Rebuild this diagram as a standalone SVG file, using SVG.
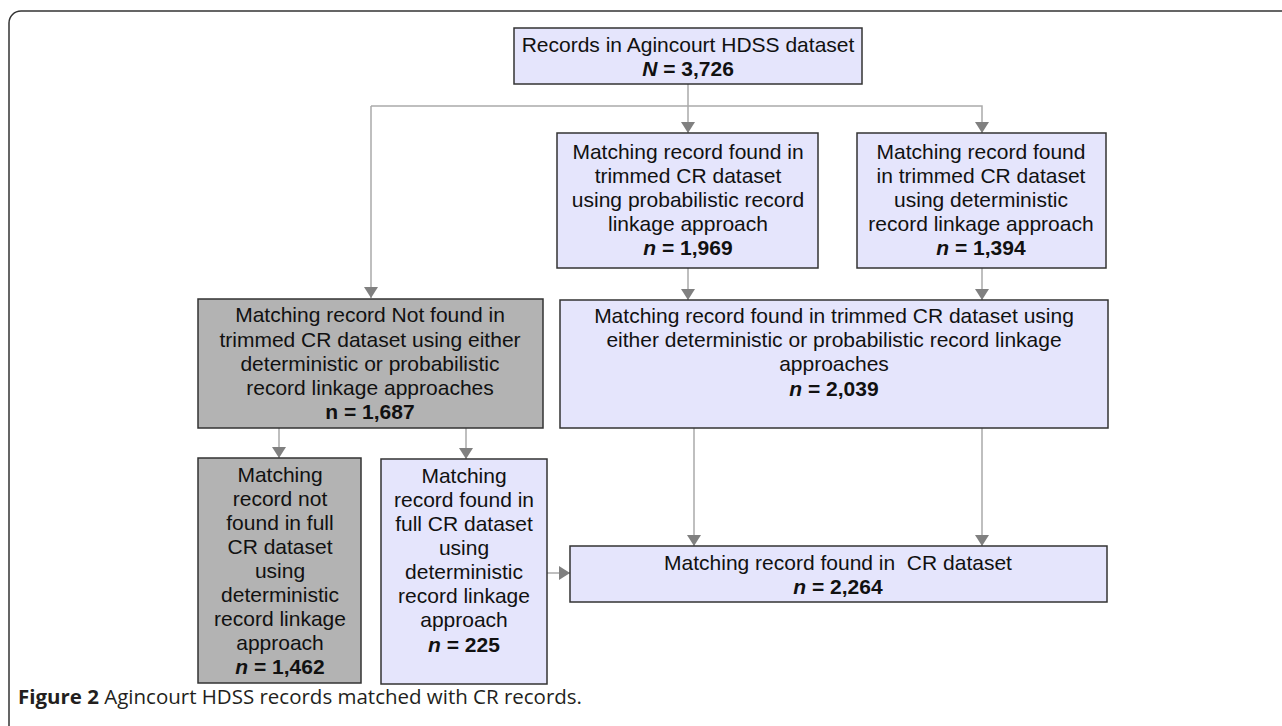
<svg xmlns="http://www.w3.org/2000/svg" width="1282" height="726" viewBox="0 0 1282 726">
<style>
.box{stroke:#333;stroke-width:1.5}
.lav{fill:#e5e5fc}
.gry{fill:#b3b3b3}
.t{font-family:"Liberation Sans",Arial,sans-serif;font-size:21px;fill:#111;text-anchor:middle}
.b{font-weight:bold}
.i{font-style:italic}
.c{fill:none;stroke:#aaa;stroke-width:1.5}
</style>
<defs>
<marker id="ah" markerWidth="11" markerHeight="14" refX="11" refY="7" orient="auto" markerUnits="userSpaceOnUse">
<path d="M0,0 L11,7 L0,14 Z" fill="#808080"/>
</marker>
</defs>
<rect width="1282" height="726" fill="#fff"/>
<path d="M9,726 V23 A12,12 0 0 1 21,11 H1282" fill="none" stroke="#333" stroke-width="1.5"/>

<g id="connectors">
<path class="c" d="M688,84 V133" marker-end="url(#ah)"/>
<path class="c" d="M371,106 H982 V133" marker-end="url(#ah)"/>
<path class="c" d="M371,106 V298" marker-end="url(#ah)"/>
<path class="c" d="M688,268 V300" marker-end="url(#ah)"/>
<path class="c" d="M982,268 V300" marker-end="url(#ah)"/>
<path class="c" d="M279,428 V458" marker-end="url(#ah)"/>
<path class="c" d="M466,428 V459" marker-end="url(#ah)"/>
<path class="c" d="M694,428 V546" marker-end="url(#ah)"/>
<path class="c" d="M982,428 V546" marker-end="url(#ah)"/>
<path class="c" d="M547,573 H570" marker-end="url(#ah)"/>
</g>

<g id="n-top">
<rect class="box lav" x="514" y="28" width="348" height="56"/>
<text class="t" x="688" y="52">Records in Agincourt HDSS dataset</text>
<text class="t b" x="688" y="76"><tspan class="i">N</tspan> = 3,726</text>
</g>

<g id="n-prob">
<rect class="box lav" x="557" y="133" width="261" height="135"/>
<text class="t" x="688" y="159">Matching record found in</text>
<text class="t" x="688" y="183">trimmed CR dataset</text>
<text class="t" x="688" y="207">using probabilistic record</text>
<text class="t" x="688" y="231">linkage approach</text>
<text class="t b" x="688" y="255"><tspan class="i">n</tspan> = 1,969</text>
</g>

<g id="n-det">
<rect class="box lav" x="857" y="133" width="249" height="135"/>
<text class="t" x="981" y="159">Matching record found</text>
<text class="t" x="981" y="183">in trimmed CR dataset</text>
<text class="t" x="981" y="207">using deterministic</text>
<text class="t" x="981" y="231">record linkage approach</text>
<text class="t b" x="981" y="255"><tspan class="i">n</tspan> = 1,394</text>
</g>

<g id="n-notfound">
<rect class="box gry" x="198" y="299" width="345" height="129"/>
<text class="t" x="370" y="322">Matching record Not found in</text>
<text class="t" x="370" y="347">trimmed CR dataset using either</text>
<text class="t" x="370" y="371">deterministic or probabilistic</text>
<text class="t" x="370" y="395">record linkage approaches</text>
<text class="t b" x="370" y="419">n = 1,687</text>
</g>

<g id="n-either">
<rect class="box lav" x="560" y="300" width="548" height="128"/>
<text class="t" x="834" y="323">Matching record found in trimmed CR dataset using</text>
<text class="t" x="834" y="347">either deterministic or probabilistic record linkage</text>
<text class="t" x="834" y="371">approaches</text>
<text class="t b" x="834" y="396"><tspan class="i">n</tspan> = 2,039</text>
</g>

<g id="n-notfull">
<rect class="box gry" x="198" y="458" width="163" height="225"/>
<text class="t" x="280" y="482">Matching</text>
<text class="t" x="280" y="506">record not</text>
<text class="t" x="280" y="530">found in full</text>
<text class="t" x="280" y="554">CR dataset</text>
<text class="t" x="280" y="578">using</text>
<text class="t" x="280" y="602">deterministic</text>
<text class="t" x="280" y="626">record linkage</text>
<text class="t" x="280" y="650">approach</text>
<text class="t b" x="280" y="674"><tspan class="i">n</tspan> = 1,462</text>
</g>

<g id="n-full">
<rect class="box lav" x="381" y="459" width="166" height="225"/>
<text class="t" x="464" y="483">Matching</text>
<text class="t" x="464" y="507">record found in</text>
<text class="t" x="464" y="531">full CR dataset</text>
<text class="t" x="464" y="555">using</text>
<text class="t" x="464" y="579">deterministic</text>
<text class="t" x="464" y="603">record linkage</text>
<text class="t" x="464" y="627">approach</text>
<text class="t b" x="464" y="652"><tspan class="i">n</tspan> = 225</text>
</g>

<g id="n-final">
<rect class="box lav" x="570" y="546" width="537" height="56"/>
<text class="t" x="838" y="570" xml:space="preserve">Matching record found in  CR dataset</text>
<text class="t b" x="838" y="594"><tspan class="i">n</tspan> = 2,264</text>
</g>

<text x="18" y="704" font-family="'Open Sans','Liberation Sans',sans-serif" font-size="20" fill="#231f20" textLength="564" lengthAdjust="spacingAndGlyphs"><tspan font-weight="bold">Figure 2</tspan> Agincourt HDSS records matched with CR records.</text>
</svg>
